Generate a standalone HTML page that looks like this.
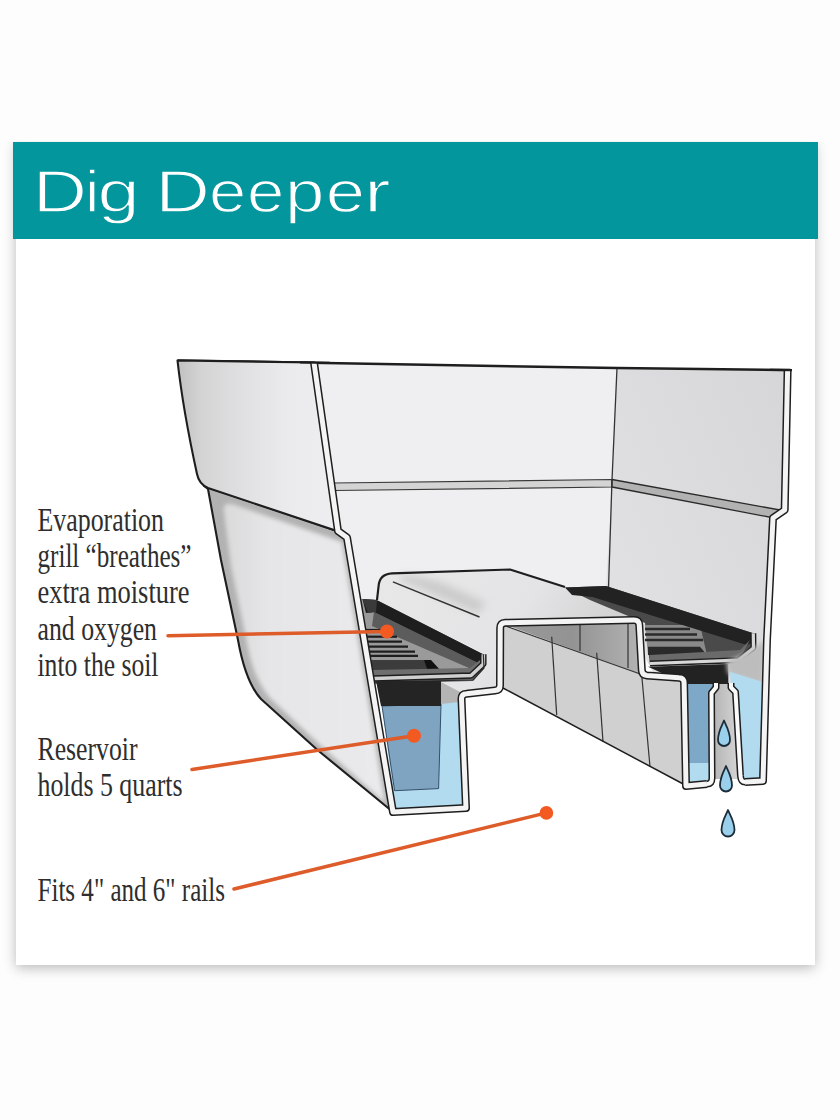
<!DOCTYPE html>
<html><head><meta charset="utf-8">
<style>
html,body{margin:0;padding:0;background:#fdfdfd;width:840px;height:1120px;overflow:hidden}
#card{position:absolute;left:15.7px;top:141.5px;width:799.6px;height:823.5px;background:#fff;box-shadow:0 3px 12px rgba(0,0,0,0.27);clip-path:inset(0 -30px -30px -30px)}
#hdr{position:absolute;left:13px;top:141.5px;width:805px;height:97.5px;background:#04969d}
svg{position:absolute;left:0;top:0}
</style></head>
<body>
<div id="card"></div>
<div id="hdr"></div>
<svg width="840" height="1120" viewBox="0 0 840 1120">
<defs>
<linearGradient id="gUL" x1="0" y1="0" x2="1" y2="0">
<stop offset="0" stop-color="#c0c0c0"/><stop offset="0.15" stop-color="#d4d4d4"/><stop offset="0.45" stop-color="#e2e2e4"/><stop offset="0.7" stop-color="#ebebed"/><stop offset="1" stop-color="#eeeef0"/>
</linearGradient>
<linearGradient id="gLL" x1="0" y1="0" x2="1" y2="0">
<stop offset="0" stop-color="#dadada"/><stop offset="0.3" stop-color="#e6e6e8"/><stop offset="1" stop-color="#eaeaec"/>
</linearGradient>
<linearGradient id="gRW" x1="1" y1="0" x2="0" y2="1">
<stop offset="0" stop-color="#d6d6d8"/><stop offset="1" stop-color="#e4e4e6"/>
</linearGradient>
<linearGradient id="gBench" x1="0" y1="0" x2="1" y2="0.3">
<stop offset="0" stop-color="#e8e8e8"/><stop offset="0.6" stop-color="#e4e4e6"/><stop offset="1" stop-color="#cfcfcf"/>
</linearGradient>
<linearGradient id="gCeil" x1="0" y1="0" x2="1" y2="0">
<stop offset="0" stop-color="#9a9a9a"/><stop offset="0.5" stop-color="#939393"/><stop offset="1" stop-color="#b4b4b4"/>
</linearGradient>
<linearGradient id="gTube" x1="0" y1="0" x2="1" y2="0"><stop offset="0" stop-color="#b4b4b4"/><stop offset="1" stop-color="#d6d6d6"/></linearGradient>
<filter id="blur3" x="-10%" y="-10%" width="120%" height="120%"><feGaussianBlur stdDeviation="2.2"/></filter>
<filter id="blur4" x="-20%" y="-20%" width="140%" height="140%"><feGaussianBlur stdDeviation="4"/></filter>
</defs>

<!-- title -->
<g font-family="Liberation Sans" font-size="58.5" fill="#fff" stroke="#04969d" stroke-width="1.3">
<text transform="translate(32.87,212) scale(1.285,1)">D</text>
<text transform="translate(84.74,212) scale(1.140,1)">i</text>
<text transform="translate(97.41,212) scale(1.296,1)">g</text>
<text transform="translate(155.33,212) scale(1.294,1)">D</text>
<text transform="translate(208.97,212) scale(1.144,1)">e</text>
<text transform="translate(247.06,212) scale(1.148,1)">e</text>
<text transform="translate(285.05,212) scale(1.212,1)">p</text>
<text transform="translate(325.68,212) scale(1.207,1)">e</text>
<text transform="translate(364.03,212) scale(1.367,1)">r</text>
</g>

<!-- labels -->
<g font-family="Liberation Serif" font-size="33" fill="#2e2e2e">
<text x="37.5" y="531" textLength="126.5" lengthAdjust="spacingAndGlyphs">Evaporation</text>
<text x="37.5" y="567" textLength="154" lengthAdjust="spacingAndGlyphs">grill “breathes”</text>
<text x="37.5" y="603" textLength="152" lengthAdjust="spacingAndGlyphs">extra moisture</text>
<text x="37.5" y="639.5" textLength="119.5" lengthAdjust="spacingAndGlyphs">and oxygen</text>
<text x="37.5" y="676" textLength="121" lengthAdjust="spacingAndGlyphs">into the soil</text>
<text x="37.5" y="759.5" textLength="100" lengthAdjust="spacingAndGlyphs">Reservoir</text>
<text x="37.5" y="796" textLength="145" lengthAdjust="spacingAndGlyphs">holds 5 quarts</text>
<text x="37.5" y="900.5" textLength="187.5" lengthAdjust="spacingAndGlyphs">Fits 4" and 6" rails</text>
</g>

<!-- ===== illustration ===== -->
<g stroke-linejoin="round">
<!-- back wall -->
<polygon points="314,362.5 617,368 606,600 350,600" fill="#efeff1"/>
<!-- right wall -->
<polygon points="617,368 787.6,371 784.7,510 773,518 763,781 690,740 606,586 612,480" fill="url(#gRW)"/>
<!-- ledges -->
<polygon points="333,483 612,479.5 612,487 334,490.5" fill="#d4d4d4" stroke="#3a3a3a" stroke-width="1.2"/>
<polygon points="612,479.5 780,510 774,518 612,487" fill="#b2b2b2" stroke="#2a2a2a" stroke-width="1.3"/>
<!-- corner line -->
<polyline points="617,368 612,480 608.5,588" fill="none" stroke="#333" stroke-width="1.3"/>
<!-- top outline -->
<polyline points="177.5,360.5 617,368 790.5,370" fill="none" stroke="#1e1e1e" stroke-width="2.5"/>

<!-- left lower panel -->
<path d="M204,486 L337,531 L347,537.5 L393,812 L317.5,750 L261,699 C250,687 243,668 238,640 L221,560 L208,489 Z" fill="#b2b2b2"/>
<path d="M224,512 Q222,502 232,504 L342,542 L385,803 L320,745 L270,698 C255,680 250,660 246,638 L231,566 Z" fill="url(#gLL)" filter="url(#blur3)"/>
<path d="M204,486 L337,531 L347,537.5 L393,812 L317.5,750 L261,699 C250,687 243,668 238,640 L221,560 L208,489 Z" fill="none" stroke="#1e1e1e" stroke-width="2.1"/>
<!-- left upper panel -->
<path d="M177.5,360.5 L314,362.5 L337,531 L208,488 Q199,484 197,474 Q183,410 177.5,360.5 Z" fill="url(#gUL)" stroke="#1e1e1e" stroke-width="2.1"/>

<!-- bench top surface -->
<polygon points="377,600 378.6,581 390,573.3 510,569.5 565,587 640,619 500,622 500,690 462,694 441,682 482,653" fill="url(#gBench)"/>
<polygon points="398,579 478,613 486,603 440,582 404,574" fill="#cacaca" filter="url(#blur4)"/>
<path d="M377,600 L378.6,586 Q379.5,574 392,573.3 L510,569.5 L565,587" fill="none" stroke="#1e1e1e" stroke-width="2.2"/>
<line x1="392.9" y1="581.9" x2="479.5" y2="617" stroke="#333" stroke-width="1.5"/>

<!-- left trough -->
<polygon points="360,599 376.7,600 483.3,654.2 484,667 472,676 377,682 366,640" fill="#9a9a9a"/>
<polygon points="374,612 478,663 476,671 372,626" fill="#5c5c5c"/>
<polygon points="362.5,599 376.7,600 483.3,654.2 484,663 478,663 374,612 366,613" fill="#1e1e1e"/>
<polygon points="362.5,599 377,600 376,612 368,613" fill="#3a3a3a"/>
<g stroke="#1e1e1e" stroke-width="2.2">
<line x1="366" y1="630" x2="393" y2="630"/>
<line x1="366" y1="636.7" x2="397" y2="636.7"/>
<line x1="367" y1="641.7" x2="402" y2="641.7"/>
<line x1="367" y1="646.7" x2="408" y2="646.7"/>
<line x1="368" y1="651.7" x2="415" y2="651.7"/>
<line x1="368" y1="655.8" x2="418" y2="655.8"/>
</g>
<polygon points="371,660 424,660 441.7,671.7 373,671.7" fill="#3c3c3c"/>
<polygon points="424,660 431,660 441.7,671.7 428,671.7" fill="#111"/>
<polygon points="372,670 470,668 480,660 484,668 473,681 374,684" fill="#6e6e6e"/>
<polyline points="374,678.5 471,675.5 483.3,664 483.3,654.2" fill="none" stroke="#1e1e1e" stroke-width="6.5"/>
<polyline points="374,678.5 471,675.5 483.3,664 483.3,654.2" fill="none" stroke="#cfcfcf" stroke-width="3.6"/>
<polyline points="374,682 473,680 484,668 483.3,654.2" fill="none" stroke="#2a2a2a" stroke-width="1.2"/>

<!-- left reservoir water -->
<polygon points="380,690 459,694 463,806 395,809" fill="#b2dbef"/>
<polygon points="382,706 441,704 438.6,788.6 394.6,790.7" fill="#7ea4c2" stroke="#34506a" stroke-width="1"/>
<polygon points="441,682 462,693 459,702 441,704" fill="#b4b4b4"/>
<!-- under grill dark -->
<polygon points="376,681 441,681 441,706 381,706" fill="#242424"/>

<!-- channel interior -->
<polygon points="503,625 643,675 684,679 686,786 503,688" fill="#d0d0d0"/>
<polygon points="503,624 639,621 643,675" fill="url(#gCeil)"/>
<g stroke="#333" stroke-width="1.2" fill="none">
<line x1="503" y1="625" x2="643" y2="675"/>
<line x1="580" y1="622" x2="580" y2="651"/>
<line x1="628" y1="622" x2="628" y2="668"/>
<line x1="551.7" y1="636.7" x2="556.7" y2="715"/>
<line x1="596.7" y1="652.7" x2="603" y2="741.7"/>
<line x1="641.7" y1="675" x2="650" y2="766.7"/>
</g>
<line x1="503" y1="688" x2="687" y2="786" stroke="#1e1e1e" stroke-width="1.5"/>

<!-- right trough -->
<polygon points="565,587.5 606,586 753.3,633.3 754,648.3 738.3,661.7 650,665 645,623 590,600" fill="#4a4a4a"/>
<polygon points="645,625 700,625 707,655 648,655" fill="#8a8a8a"/>
<g stroke="#2a2a2a" stroke-width="2.5">
<line x1="645" y1="629" x2="690" y2="629"/>
<line x1="645" y1="634.5" x2="697" y2="634.5"/>
<line x1="645" y1="640" x2="703" y2="640"/>
</g>
<polygon points="648,646.7 700,646.7 707,655 648,655" fill="#2a2a2a"/>
<polygon points="565,587.5 606,586 753.3,633.3 753.5,642 746.7,645 592.5,597 572,595" fill="#222"/>
<polygon points="650,655 740,650 750,640 738.3,661.7 650,665" fill="#6a6a6a"/>
<polyline points="650,663.5 738.3,660.2 753.5,648 753.3,633.3" fill="none" stroke="#1e1e1e" stroke-width="6"/>
<polyline points="650,663.5 738.3,660.2 753.5,648 753.3,633.3" fill="none" stroke="#d8d8d8" stroke-width="3.2"/>
<polygon points="648,666.7 728.3,664 728.3,684 686,684" fill="#222"/>

<!-- right reservoir -->
<polygon points="726,662 752,650 764,640 763,684 728,674" fill="#bdbdbd" filter="url(#blur3)"/>
<polygon points="730,671.7 761.7,681.7 761,778 738,778" fill="#b2dbef"/>
<polygon points="686,684 713,684 714,763 688,763" fill="#7ea8c8"/>
<polygon points="688,763 710,763 711,784 688,785" fill="#b2dbef"/>
<polygon points="713,690 717,684 731,684 735,690 739.5,779 713,779" fill="url(#gTube)"/>

<!-- cross-section band -->
<path d="M314,362.5 L338,531 L347,537.5 L393,812 L466,808 L461.5,699 Q461.5,694 466.5,693.8 L495,690.5 Q500,690.4 500,685.5 L500.2,628 Q500.3,623 505.3,622.8 L634,620 Q639,620 639.3,625 L641.8,670 Q642,675 647,675.5 L679,677.8 Q684,678 684.1,683 L686,786 L707,784" fill="none" stroke="#1e1e1e" stroke-width="8"/>
<path d="M745,782 L763,781 L767,640 L773,518 L784.7,510 L787.6,371" fill="none" stroke="#1e1e1e" stroke-width="8"/>
<path d="M707,784 Q712,784 712,778 L711.5,693 L716,687.5 L716,683 M731,683 L731,687.5 L735.5,692 L740.5,776 Q741,782 745,782" fill="none" stroke="#1e1e1e" stroke-width="7"/>
<path d="M314,362.5 L338,531 L347,537.5 L393,812 L466,808 L461.5,699 Q461.5,694 466.5,693.8 L495,690.5 Q500,690.4 500,685.5 L500.2,628 Q500.3,623 505.3,622.8 L634,620 Q639,620 639.3,625 L641.8,670 Q642,675 647,675.5 L679,677.8 Q684,678 684.1,683 L686,786 L707,784" fill="none" stroke="#f4f4f4" stroke-width="5"/>
<path d="M745,782 L763,781 L767,640 L773,518 L784.7,510 L787.6,371" fill="none" stroke="#f4f4f4" stroke-width="5"/>
<path d="M707,784 Q712,784 712,778 L711.5,693 L716,687.5 L716,683 M731,683 L731,687.5 L735.5,692 L740.5,776 Q741,782 745,782" fill="none" stroke="#fafafa" stroke-width="4"/>
<!-- re-cap top of band -->
<polyline points="300,362.3 330,362.8" fill="none" stroke="#1e1e1e" stroke-width="2.2"/>
<polyline points="770,369.8 792,370.2" fill="none" stroke="#1e1e1e" stroke-width="2.2"/>

<!-- drops -->
<g fill="#9ad0ec" stroke="#1c2c38" stroke-width="1.8">
<path d="M724,720.5 C725.5,724.5 730,731.21 730,740.0 A6,6 0 0 1 718,740.0 C718,731.21 722.5,724.5 724,720.5 Z"/>
<path d="M726,766 C727.5,770 732,776.71 732,785.5 A6,6 0 0 1 720,785.5 C720,776.71 724.5,770 726,766 Z"/>
<path d="M728,810 C729.5,814 734.5,821.13 734.5,830.0 A6.5,6.5 0 0 1 721.5,830.0 C721.5,821.13 726.5,814 728,810 Z"/>
</g>
</g>

<!-- orange callouts -->
<g stroke="#de5b2a" stroke-width="3.5" stroke-linecap="round" fill="#f25a22">
<line x1="168" y1="635.7" x2="387" y2="631.5"/>
<circle cx="387" cy="631.5" r="7" stroke="none"/>
<line x1="192" y1="769.5" x2="414" y2="735.7"/>
<circle cx="414" cy="735.7" r="7" stroke="none"/>
<line x1="234" y1="889" x2="546.4" y2="812.9"/>
<circle cx="546.4" cy="812.9" r="6.8" stroke="none"/>
</g>
</svg>
</body></html>
